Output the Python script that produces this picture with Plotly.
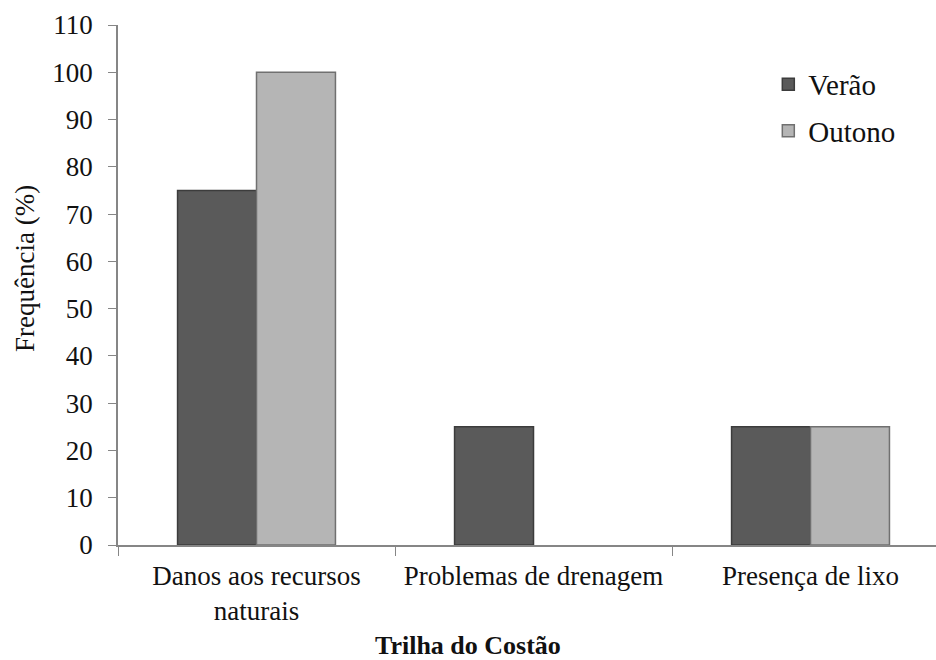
import plotly.graph_objects as go

categories = ["Danos aos recursos<br>naturais", "Problemas de drenagem", "Presença de lixo"]
verao = [75, 25, 25]
outono = [100, 0, 25]
series_names = ["Verão", "Outono"]
y_ticks = list(range(0, 111, 10))

FONT = "Times New Roman, Liberation Serif, DejaVu Serif, serif"

fig = go.Figure()
fig.add_trace(go.Bar(
    x=categories, y=verao, name=series_names[0], legendgroup="a",
    marker=dict(color="#5a5a5a",
                line=dict(color="#3c3c3c", width=[1.5 if v > 0 else 0 for v in verao])),
))
fig.add_trace(go.Bar(
    x=categories, y=outono, name=series_names[1], legendgroup="b",
    marker=dict(color="#b5b5b5",
                line=dict(color="#707070", width=[1.5 if v > 0 else 0 for v in outono])),
))

fig.update_layout(
    width=936, height=660,
    margin=dict(l=118, r=0, t=25, b=115),
    paper_bgcolor="white", plot_bgcolor="white",
    barmode="group", bargap=0.43, bargroupgap=0,
    font=dict(family=FONT, size=27, color="#111111"),
    legend=dict(
        x=0.795, y=0.935, xanchor="left", yanchor="top",
        font=dict(family=FONT, size=29, color="#111111"),
        tracegroupgap=6, traceorder="grouped",
        bgcolor="rgba(0,0,0,0)",
    ),
    showlegend=True,
)
fig.update_xaxes(
    type="category", range=[-0.5, 2.453],
    showline=True, linecolor="#868686", linewidth=1.5,
    ticks="outside", tickson="boundaries", ticklen=9, tickcolor="#868686",
    ticklabelstandoff=6,
    showgrid=False, zeroline=False,
    tickfont=dict(family=FONT, size=27),
)
fig.update_yaxes(
    range=[0, 110], tickvals=y_ticks,
    showline=True, linecolor="#868686", linewidth=1.5,
    ticks="outside", ticklen=8, tickcolor="#868686",
    ticklabelstandoff=10,
    showgrid=False, zeroline=False,
    tickfont=dict(family=FONT, size=27),
)
fig.add_annotation(
    text="Frequência (%)", xref="paper", yref="paper", textangle=-90,
    x=(25 - 118) / 818, y=(545 - 269) / 520, xanchor="center", yanchor="middle",
    showarrow=False, font=dict(family=FONT, size=27, color="#111111"),
)
fig.add_annotation(
    text="<b>Trilha do Costão</b>", xref="paper", yref="paper",
    x=(468 - 118) / 818, y=(545 - 645) / 520, xanchor="center", yanchor="middle",
    showarrow=False, font=dict(family=FONT, size=26, color="#111111"),
)

fig.write_html("out.html")
